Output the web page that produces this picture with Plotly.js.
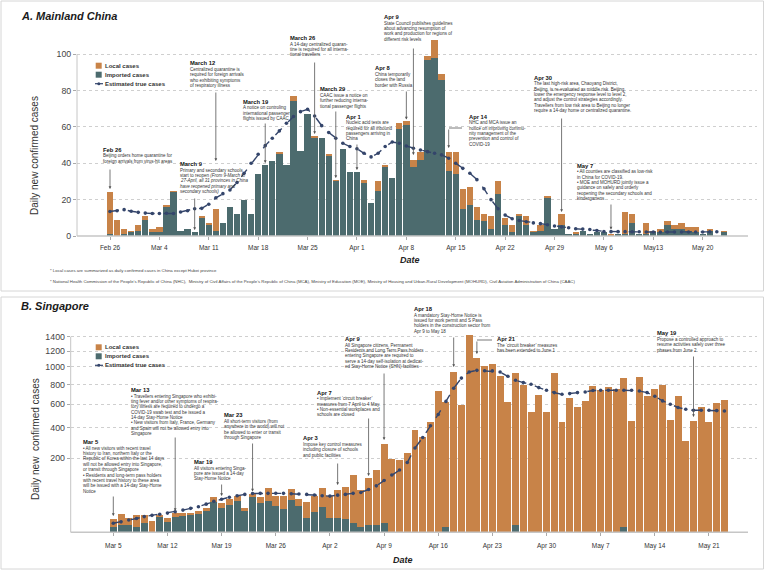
<!DOCTYPE html>
<html><head><meta charset="utf-8">
<script src="https://cdn.plot.ly/plotly-3.0.1.min.js"></script>
<style>html,body{margin:0;padding:0;background:#fff}#chart{width:765px;height:570px}</style>
</head><body><div id="chart"></div>
<script>
// ---------------- DATA ----------------
const chinaStart = '2020-02-26';          // first bar date (daily bars)
const chinaImported = [1,0,1,2,
 3,9,2,2,16,24,3,4,2,10,6,3,7,16,12,20,12,34,39,41,45,39,74,47,67,54,54,44,30,48,35,
 35,29,18,25,38,32,59,61,38,42,97,98,86,36,34,15,17,9,8,4,23,6,2,11,6,2,3,21,4,6,
 1,1,3,1,2,2,0,1,1,7,1,1,2,2,6,4,4,3,2,1,3,0,2];
const chinaLocal = [23,9,3,1,
 3,2,2,3,1,1,0,0,0,1,1,12,0,0,0,0,0,0,0,0,1,0,3,0,0,1,0,1,1,0,0,
 0,2,0,5,1,0,3,2,4,4,2,10,3,10,12,11,10,7,4,7,7,4,4,1,5,1,3,1,0,6,
 0,1,0,0,0,0,1,0,12,5,0,6,1,2,2,2,3,2,3,0,1,0,1];
const chinaEst = [13.5,13.9,14.5,13.6,
 13.0,12.6,12.4,12.4,12.5,12.4,13.2,13.9,15.0,15.2,17.5,21.0,23.3,25.3,29.4,34.5,40.0,45.0,49.7,53.8,57.8,62.0,65.7,68.4,69.7,66.0,60.7,56.9,53.8,51.0,49.2,
 48.0,45.5,43.5,45.5,49.2,51.7,51.0,49.5,48.3,47.3,46.4,45.5,44.6,42.8,40.0,37.2,34.5,31.0,26.0,20.0,15.0,11.5,9.5,8.5,7.8,7.2,6.8,6.2,5.5,5.0,
 4.5,4.0,3.8,3.6,3.0,2.5,2.4,2.4,2.4,2.3,2.3,2.2,2.2,2.2,2.2,2.2,2.2,2.2,2.2,2.2,2.3,2.3];
const chinaTickDates = ['2020-02-26','2020-03-04','2020-03-11','2020-03-18','2020-03-25','2020-04-01','2020-04-08','2020-04-15','2020-04-22','2020-04-29','2020-05-06','2020-05-13','2020-05-20'];
const chinaTickText = ['Feb 26','Mar 4','Mar 11','Mar 18','Mar 25','Apr 1','Apr 8','Apr 15','Apr 22','Apr 29','May 6','May13','May 20'];
const chinaYTicks = [0,20,40,60,80,100];

const sgStart = '2020-03-05';
const sgImported = [1,2,2,1,3,0,9,4,9,10,11,12,16,34,22,27,36,17,46,31,37,26,20,38,25,8,15,
 23,7,8,6,3,1,2,2,3,0,0,0,0,0,0,0,1,0,0,0,0,0,0,0,0,2,0,0,0,0,
 0,0,0,0,0,0,0,0,0,1,0,0,0,0,0,0,0,0,0,0,0,0,0];
const sgLocal = [5,10,5,10,8,5,2,4,4,3,3,4,6,12,10,13,11,4,9,15,34,23,28,31,15,25,32,
 50,41,56,68,117,64,104,140,284,198,191,233,386,334,447,728,622,942,596,1426,1111,1016,1037,897,618,929,799,528,690,528,
 932,447,657,573,632,788,741,768,753,875,450,884,675,750,793,465,682,305,451,570,448,614,642];
const sgEst = [3,4,5.5,7,9,10.5,12,13.5,15.5,18,21,24,29,35,40,45,49,52.5,55,55.5,55.5,56,55.5,54.5,53.5,52.5,51,
 49,48,50.5,52.5,55.5,58,67,79,98,120,142,178,260,329,415,508,627,760,870,940,960,955,953,940,891,846,820,802,766,738,
 714,697,704,714,721,735,738,738,738,738,738,731,714,677,632,600,570,554,545,545,545,542,539];
const sgTickDates = ['2020-03-05','2020-03-12','2020-03-19','2020-03-26','2020-04-02','2020-04-09','2020-04-16','2020-04-23','2020-04-30','2020-05-07','2020-05-14','2020-05-21'];
const sgTickText = ['Mar 5','Mar 12','Mar 19','Mar 26','Apr 2','Apr 9','Apr 16','Apr 23','Apr 30','May 7','May 14','May 21'];
const sgYTicks = [200,400,600,800,1000,1200,1400];

const seriesNames = ['Local cases','Imported cases','Estimated true cases'];

const chinaNotes = [
 {d:'Feb 26', x:102, y:150, lines:['Beijing orders home quarantine for','foreign arrivals from virus-hit areas']},
 {d:'March 12', x:189, y:63.3, lines:['Centralized quarantine is','required for foreign arrivals','who exhibiting symptoms','of respiratory illness']},
 {d:'March 9', x:179, y:164, lines:['Primary and secondary schools','start to reopen <i>(From 9-March to</i>','<i>27-April, all 31 provinces in China</i>','<i>have reopened primary and</i>','<i>secondary schools)</i>']},
 {d:'March 19', x:241.7, y:101.7, lines:['A notice on controling','international passenger','flights issued by CAAC']},
 {d:'March 26', x:289.3, y:38.3, lines:['A 14-day centralized quaran-','tine is required for all interna-','tional travellers']},
 {d:'March 29', x:319.3, y:89.3, lines:['CAAC issue a notice on','further reducing interna-','tional passenger flights']},
 {d:'Apr 1', x:345, y:116.7, lines:['Nucleic acid tests are','required for all inbound','passengers arriving in','China']},
 {d:'Apr 8', x:374, y:68.3, lines:['China temporarily','closes the land','border with Russia']},
 {d:'Apr 9', x:382.7, y:17.3, lines:['State Council publishes guidelines','about advancing resumption of','work and production for regions of','different risk levels']},
 {d:'Apr 14', x:467.7, y:116.7, lines:['NHC and MCA issue an','notice on improving commu-','nity management of the','prevention and control of','COVID-19']},
 {d:'Apr 30', x:533.3, y:77.7, lines:['The last high-risk area, Chaoyang District,','Beijing, is re-evaluated as middle risk. Beijing','lower the emergency response level to level 2,','and adjust the control strategies accordingly.','Travellers from low risk area to Beijing no longer','require a 14-day home or centralized quarantine.']},
 {d:'May 7', x:576, y:165.7, lines:['• All counties are classified as low-risk','in China for COVID-19.','• MOE and MOHURD jointly issue a','guidance on safely and orderly','reopening the secondary schools and','kindergartens']}
];
const sgNotes = [
 {d:'Mar 5', x:82.3, y:442.3, lines:['• All new visitors with recent travel','history to Iran, northern Italy or the','Republic of Korea within the last 14 days','will not be allowed entry into Singapore,','or transit through Singapore','• Residents and long-term pass holders','with recent travel history to these area','will be issued with a 14-day Stay-Home','Notice']},
 {d:'Mar 13', x:130, y:390, lines:['• Travellers entering Singapore who exhibi-','ting fever and/or other symptoms of respira-','tory illness are required to undergo a','COVID-19 swab test and be issued a','14-day Stay-Home Notice','• New visitors from Italy, France, Germany','and Spain will not be allowed entry into','Singapore']},
 {d:'Mar 19', x:193.3, y:462.3, lines:['All visitors entering Singa-','pore are issued a 14-day','Stay-Home Notice']},
 {d:'Mar 23', x:223.3, y:415.3, lines:['All short-term visitors (from','anywhere in the world) will not','be allowed to enter or transit','through Singapore']},
 {d:'Apr 3', x:302.3, y:438.3, lines:['Impose key control measures','including closure of schools','and public facilities']},
 {d:'Apr 7', x:316, y:392.7, lines:['• Implement \u2018circuit breaker\u2019','measures from 7 April to 4 May.','• Non-essential workplaces and','schools are closed']},
 {d:'Apr 9', x:344.3, y:339, lines:['All Singapore citizens, Permanent','Residents and Long Term Pass holders','entering Singapore are required to','serve a 14-day self-isolation at dedicat-','ed Stay-Home Notice (SHN) facilities']},
 {d:'Apr 18', x:413.3, y:309, lines:['A mandatory Stay-Home Notice is','issued for work permit and S Pass','holders in the construction sector from','Apr 9 to May 18']},
 {d:'Apr 21', x:496, y:339, lines:['The \u2018circuit breaker\u2019 measures','has been extended to June 1']},
 {d:'May 19', x:655.7, y:333.3, lines:['Propose a controlled approach to','resume activities safely over three','phases from June 2']}
];
// arrows: [axis, date, headPy, tailPy]
const chinaArrows = [['x','2020-02-26',189,168],['x','2020-03-12',161,91],['x','2020-03-09',230,197],['x','2020-03-19',163,122],
 ['x','2020-03-26',134,61],['x','2020-03-29',178,110],['x','2020-04-01',170,143],['x','2020-04-08',119.5,90],['x','2020-04-09',155,47],
 ['x','2020-04-14',148,128],['x','2020-04-30',212,117],['x','2020-05-07',229.5,203]];
const sgArrows = [['x2','2020-03-05',516,495],['x2','2020-03-13',511,436],['x2','2020-03-19',496,483],['x2','2020-03-23',491.5,442],
 ['x2','2020-04-03',485,462],['x2','2020-04-07',476,417],['x2','2020-04-09',440,372],['x2','2020-04-18',367,336],
 ['x2','2020-04-21',354,340],['x2','2020-05-19',417,355]];

// ---------------- HELPERS ----------------
const W = 765, H = 570;
const FONT = 'Liberation Sans, Arial, sans-serif';
const C_LOCAL = '#C88348', C_IMP = '#4C6B6E', C_EST = '#34456B';
const px = v => v / W, py = v => 1 - v / H;
function days(start, n) {
  const t0 = Date.parse(start + 'T00:00:00Z'), out = [];
  for (let i = 0; i < n; i++) out.push(new Date(t0 + i * 864e5).toISOString().slice(0, 10));
  return out;
}
function shiftDate(start, d) {
  return new Date(Date.parse(start + 'T00:00:00Z') + d * 864e5).toISOString().replace('T', ' ').slice(0, 19);
}
const chinaDates = days(chinaStart, chinaImported.length);
const chinaEstDates = days(chinaStart, chinaEst.length);
const sgDates = days(sgStart, sgImported.length);
const sq = a => a.map(v => Math.sqrt(v));
const sgImpS = sq(sgImported);
const sgLocS = sgLocal.map((v, i) => Math.sqrt(v + sgImported[i]) - Math.sqrt(sgImported[i]));

// ---------------- TRACES ----------------
const traces = [
 {type:'bar', name:seriesNames[1], x:chinaDates, y:chinaImported, xaxis:'x', yaxis:'y', marker:{color:C_IMP}},
 {type:'bar', name:seriesNames[0], x:chinaDates, y:chinaLocal, xaxis:'x', yaxis:'y', marker:{color:C_LOCAL}},
 {type:'scatter', mode:'lines+markers', name:seriesNames[2], x:chinaEstDates, y:chinaEst, xaxis:'x', yaxis:'y',
  line:{color:C_EST, width:1.4, dash:'dash'}, marker:{color:C_EST, size:3.6}},
 {type:'bar', name:seriesNames[1], x:sgDates, y:sgImpS, xaxis:'x2', yaxis:'y2', marker:{color:C_IMP}},
 {type:'bar', name:seriesNames[0], x:sgDates, y:sgLocS, xaxis:'x2', yaxis:'y2', marker:{color:C_LOCAL}},
 {type:'scatter', mode:'lines+markers', name:seriesNames[2], x:sgDates, y:sq(sgEst), xaxis:'x2', yaxis:'y2',
  line:{color:C_EST, width:1.4, dash:'dash'}, marker:{color:C_EST, size:3.6}}
];

// ---------------- LAYOUT ----------------
const annotations = [];
function addText(text, x, y, size, extra) {
  annotations.push(Object.assign({xref:'paper', yref:'paper', x:px(x), y:py(y), text:text, showarrow:false,
    xanchor:'left', yanchor:'middle', borderpad:0, font:{family:FONT, size:size, color:'#222'}}, extra || {}));
}
function addNotes(notes) {
  notes.forEach(n => {
    addText('<b>' + n.d + '</b>', n.x, n.y, 5.8, {font:{family:FONT, size:5.8, color:'#111'}});
    n.lines.forEach((l, i) => addText(l, n.x, n.y + 6 + i * 5.35, 4.5, {font:{family:FONT, size:4.5, color:'#333'}}));
  });
}
addNotes(chinaNotes); addNotes(sgNotes);
chinaArrows.concat(sgArrows).forEach(a => annotations.push({xref:a[0], yref:'paper', x:a[1], y:py(a[2]), ax:0, ay:a[3] - a[2],
  text:'', showarrow:true, arrowhead:2, arrowsize:0.7, arrowwidth:0.8, arrowcolor:'#555'}));

// titles
addText('<b><i>A. Mainland China</i></b>', 20, 16, 11, {font:{family:FONT, size:11, color:'#1a1a1a'}});
addText('<b><i>B. Singapore</i></b>', 20, 306, 11, {font:{family:FONT, size:11, color:'#1a1a1a'}});
addText('Daily new confirmed cases', 35, 156, 10, {xanchor:'center', textangle:-90, font:{family:FONT, size:10, color:'#333'}});
addText('Daily new  confirmed cases', 35, 439, 10, {xanchor:'center', textangle:-90, font:{family:FONT, size:10, color:'#333'}});
addText('<b><i>Date</i></b>', 410, 260, 9, {xanchor:'center', font:{family:FONT, size:9, color:'#222'}});
addText('<b><i>Date</i></b>', 403, 560, 9, {xanchor:'center', font:{family:FONT, size:9, color:'#222'}});
addText('* Local cases are summarized as daily confirmed cases in China except Hubei province', 49, 271, 4.3, {font:{family:FONT, size:4.3, color:'#444'}});
addText('* National Health Commission of the People\u2019s Republic of China (NHC),  Ministry of Civil Affairs of the People\u2019s Republic of China (MCA), Ministry of Education (MOE), Ministry of Housing and Urban-Rural Development (MOHURD), Civil Aviation Administration of China (CAAC)', 49, 281, 4.3, {font:{family:FONT, size:4.3, color:'#444'}});

// legends (custom)
const shapes = [];
function rectPx(x0, y0, x1, y1, fill, line) {
  shapes.push({type:'rect', xref:'paper', yref:'paper', x0:px(x0), x1:px(x1), y0:py(y1), y1:py(y0),
    fillcolor:fill, line:line || {width:0}});
}
function linePx(x0, y0, x1, y1, color, width, dash) {
  shapes.push({type:'line', xref:'paper', yref:'paper', x0:px(x0), x1:px(x1), y0:py(y0), y1:py(y1),
    line:{color:color, width:width, dash:dash || 'solid'}});
}
function legend(y0) {
  rectPx(95.7, y0 - 3, 101.7, y0 + 3, C_LOCAL);
  rectPx(95.7, y0 + 6, 101.7, y0 + 12, C_IMP);
  linePx(95, y0 + 18, 103, y0 + 18, C_EST, 1.2, 'dash');
  shapes.push({type:'circle', xref:'paper', yref:'paper', x0:px(97.3), x1:px(100.3), y0:py(y0 + 19.5), y1:py(y0 + 16.5),
    fillcolor:C_EST, line:{width:0}});
  [0, 9, 18].forEach((dy, i) => addText('<b>' + seriesNames[i] + '</b>', 104, y0 + dy, 6, {font:{family:FONT, size:6, color:'#333'}}));
}
legend(65.7); legend(347.3);

// panel borders
rectPx(1, 1, 763.5, 291, 'rgba(0,0,0,0)', {color:'#d6d6d6', width:1});
rectPx(1, 297, 763.5, 569, 'rgba(0,0,0,0)', {color:'#d6d6d6', width:1});
// axis lines
linePx(77, 236, 748, 236, '#c6c6c6', 1.6);
linePx(77, 236, 77, 54.2, '#c6c6c6', 1);
linePx(70.7, 532.3, 748, 532.3, '#c6c6c6', 1.6);
linePx(70.7, 532.3, 70.7, 336.7, '#c6c6c6', 1);
// elbow connectors
linePx(449, 128, 462, 128, '#555', 0.8);
linePx(477, 340, 492, 340, '#555', 0.8);

const sgTop = Math.sqrt(1400) * (532.3 - 326) / (532.3 - 336.7);
const axisCommon = {showline:false, zeroline:false, ticks:'outside', ticklen:3, tickwidth:1, tickcolor:'#aaa'};
const layout = {
  width:W, height:H, margin:{l:0, r:0, t:0, b:0}, paper_bgcolor:'#fff', plot_bgcolor:'rgba(0,0,0,0)',
  barmode:'stack', bargap:0.1, showlegend:false, hovermode:false,
  font:{family:FONT},
  xaxis:Object.assign({}, axisCommon, {domain:[px(77), px(757)], anchor:'y', type:'date',
    range:[shiftDate(chinaStart, -(110 - 77) / 7.056), shiftDate(chinaStart, (757 - 110) / 7.056)],
    tickmode:'array', tickvals:chinaTickDates, ticktext:chinaTickText, showgrid:false,
    tickfont:{family:FONT, size:6.5, color:'#333'}, ticklabelstandoff:2}),
  yaxis:Object.assign({}, axisCommon, {domain:[py(236), py(36)], anchor:'x', range:[0, 110],
    tickmode:'array', tickvals:chinaYTicks, ticktext:chinaYTicks.map(String), showgrid:true, gridcolor:'#cfcfcf',
    griddash:'dot', gridwidth:1, tickfont:{family:FONT, size:8.8, color:'#444'}}),
  xaxis2:Object.assign({}, axisCommon, {domain:[px(70.7), px(757)], anchor:'y2', type:'date',
    range:[shiftDate(sgStart, -(113.3 - 70.7) / 7.736), shiftDate(sgStart, (757 - 113.3) / 7.736)],
    tickmode:'array', tickvals:sgTickDates, ticktext:sgTickText, showgrid:false,
    tickfont:{family:FONT, size:6.5, color:'#333'}, ticklabelstandoff:4}),
  yaxis2:Object.assign({}, axisCommon, {domain:[py(532.3), py(326)], anchor:'x2', range:[0, sgTop],
    tickmode:'array', tickvals:sgYTicks.map(v => Math.sqrt(v)), ticktext:sgYTicks.map(String), showgrid:true,
    gridcolor:'#cfcfcf', griddash:'dot', gridwidth:1, tickfont:{family:FONT, size:8.8, color:'#444'}}),
  annotations:annotations, shapes:shapes
};
Plotly.newPlot('chart', traces, layout, {staticPlot:true, displayModeBar:false});
</script>
</body></html>
